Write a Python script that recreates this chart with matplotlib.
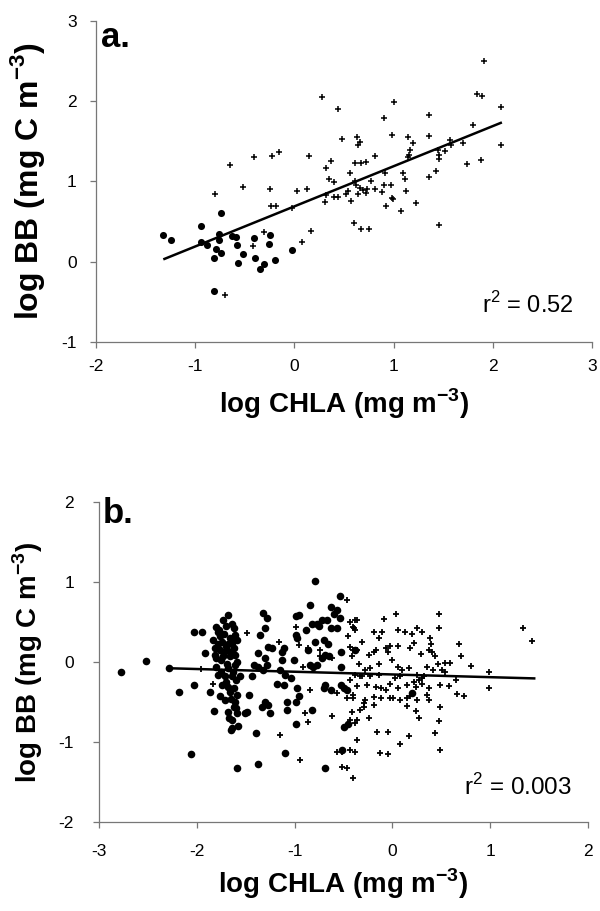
import matplotlib
matplotlib.use("Agg")
from matplotlib import pyplot as plt

plt.rcParams['font.family'] = ['Liberation Sans', 'DejaVu Sans']
plt.rcParams['mathtext.fontset'] = 'custom'
plt.rcParams['mathtext.rm'] = 'Liberation Sans'
plt.rcParams['mathtext.bf'] = 'Liberation Sans:bold'
plt.rcParams['axes.unicode_minus'] = False

# panel a - filled circles
a_dot_x = [-1.32, -1.24, -0.94, -0.74, -0.94, -0.88, -0.76, -0.76, -0.63, -0.59,
           -0.79, -0.74, -0.81, -0.58, -0.52, -0.57, -0.41, -0.40, -0.35, -0.31,
           -0.26, -0.25, -0.20, -0.02, -0.81]
a_dot_y = [0.33, 0.27, 0.45, 0.61, 0.25, 0.21, 0.34, 0.27, 0.32, 0.31,
           0.16, 0.11, 0.05, 0.21, 0.10, -0.02, 0.30, 0.05, -0.09, -0.03,
           0.22, 0.33, 0.02, 0.15, -0.36]

# panel a - crosses
a_plus_x = [-0.70, -0.42, -0.31, 0.08, 0.17, -0.02, -0.24, -0.19, -0.25, -0.52,
            -0.80, -0.65, -0.41, -0.23, -0.16, 0.03, 0.13, 0.15, 0.28, 0.44,
            0.48, 0.31, 0.32, 0.32, 0.37, 0.35, 0.40, 0.40, 0.44, 0.52,
            0.54, 0.56, 0.57, 0.60, 0.67, 0.75, 0.61, 0.62, 0.64, 0.66,
            0.69, 0.72, 0.77, 0.73, 0.81, 0.88, 0.90, 0.97, 0.92, 0.98,
            0.99, 1.07, 1.12, 1.09, 1.11, 1.23, 0.91, 0.81, 0.61, 0.67,
            0.72, 0.63, 0.66, 0.64, 0.98, 0.90, 1.00, 1.15, 1.20, 1.17,
            1.16, 1.14, 1.36, 1.36, 1.36, 1.43, 1.46, 1.46, 1.46, 1.45,
            1.52, 1.57, 1.58, 1.70, 1.74, 1.80, 1.88, 1.84, 1.89, 1.91,
            2.08, 2.08]
a_plus_y = [-0.41, 0.20, 0.37, 0.24, 0.38, 0.67, 0.70, 0.69, 0.90, 0.93,
            0.85, 1.20, 1.31, 1.32, 1.37, 0.88, 0.90, 1.32, 2.05, 1.90,
            1.53, 0.74, 0.83, 1.17, 1.26, 1.03, 0.99, 0.81, 0.81, 0.84,
            0.88, 1.10, 0.76, 0.48, 0.41, 0.41, 1.01, 0.96, 0.85, 0.92,
            0.89, 0.86, 1.00, 0.90, 0.90, 0.87, 0.95, 0.95, 0.70, 0.79,
            0.78, 0.63, 0.88, 1.11, 1.03, 0.73, 1.11, 1.32, 1.23, 1.23,
            1.24, 1.56, 1.49, 1.45, 1.58, 1.79, 1.99, 1.55, 1.48, 1.39,
            1.33, 1.31, 1.83, 1.57, 1.05, 1.13, 0.46, 1.33, 1.28, 1.39,
            1.38, 1.52, 1.45, 1.48, 1.22, 1.70, 1.27, 2.09, 2.07, 2.50,
            1.93, 1.45]

a_fit = (0.69, 0.50)          # intercept, slope
a_fit_range = (-1.31, 2.08)
a_r2 = "0.52"

# panel b - filled circles
b_dot_x = [-2.78, -2.52, -2.28, -2.18, -2.03, -2.03, -1.95, -1.92, -2.06, -1.87,
           -1.82, -1.59, -1.68, -1.73, -1.80, -1.78, -1.64, -1.62, -1.61, -1.83,
           -1.74, -1.68, -1.59, -1.81, -1.76, -1.69, -1.62, -1.81, -1.73, -1.66,
           -1.61, -1.59, -1.61, -1.80, -1.78, -1.71, -1.64, -1.56, -1.74, -1.68,
           -1.62, -1.59, -1.71, -1.61, -1.62, -1.59, -1.64, -1.65, -1.64, -1.49,
           -1.47, -1.72, -1.66, -1.70, -1.78, -1.65, -1.75, -1.68, -1.60, -1.66,
           -1.76, -1.70, -1.76, -1.64, -1.72, -1.80, -1.69, -1.75, -1.63, -1.70,
           -1.65, -1.60, -1.68, -1.58, -1.77, -1.67,
           -0.79, -0.54, -0.84, -0.63, -0.57, -1.32, -1.28, -0.99, -0.95, -0.54,
           -0.67, -0.72, -0.77, -0.82, -0.63, -0.57, -1.30, -1.35, -0.99, -0.98,
           -1.27, -1.23, -1.11, -1.13, -1.37, -1.30, -1.42, -1.37, -1.28, -1.32,
           -1.44, -1.13, -1.01, -1.15, -1.10, -1.04, -0.84, -0.81, -0.77, -0.72,
           -0.69, -0.65, -0.70, -0.79, -0.86, -0.53, -0.53, -1.18, -1.11, -0.98,
           -0.96, -0.99, -0.70, -0.69, -0.63, -0.53, -0.50, -0.46, -1.30, -1.27,
           -1.33, -1.25, -1.08, -1.08, -0.82, -0.99, -1.51, -1.39, -1.10, -1.37,
           -0.69, -0.45, -0.50, -0.52, -0.38, 0.20, -0.60, -0.75, -0.66, -0.88]
b_dot_y = [-0.13, 0.01, -0.07, -0.38, -0.29, 0.37, 0.37, 0.11, -1.15, -0.38,
           -0.61, -1.33, 0.59, 0.53, 0.44, 0.38, 0.48, 0.42, 0.34, 0.28,
           0.25, 0.23, 0.28, 0.17, 0.15, 0.15, 0.17, 0.09, 0.07, 0.07,
           0.09, 0.00, -0.04, -0.06, -0.16, -0.18, -0.18, -0.18, -0.29, -0.31,
           -0.33, -0.41, -0.48, -0.50, -0.56, -0.64, -0.73, -0.85, -0.82, -0.63,
           -0.41, 0.35, 0.30, 0.20, 0.22, 0.12, 0.02, -0.08, -0.22, -0.38,
           -0.42, 0.45, 0.32, 0.24, 0.12, 0.05, -0.02, -0.12, -0.12, -0.25,
           -0.46, -0.58, -0.62, -0.80, 0.40, -0.70,
           1.01, 0.82, 0.71, 0.69, 0.65, 0.61, 0.55, 0.57, 0.59, 0.55,
           0.53, 0.52, 0.48, 0.48, 0.42, 0.42, 0.42, 0.34, 0.34, 0.30,
           0.19, 0.17, 0.17, 0.13, 0.11, 0.05, -0.04, -0.06, -0.04, -0.10,
           -0.18, 0.02, 0.02, -0.10, -0.16, -0.20, -0.04, -0.06, -0.04, 0.05,
           0.09, 0.08, 0.28, 0.25, 0.15, -0.06, 0.13, -0.27, -0.29, -0.33,
           -0.43, -0.50, -0.33, -0.29, -0.35, -0.29, -0.33, -0.35, -0.50, -0.54,
           -0.56, -0.64, -0.50, -0.60, -0.60, -0.77, -0.64, -0.89, -1.14, -1.27,
           -1.33, -0.77, -0.81, -1.10, 0.15, -0.39, 0.60, 0.45, 0.22, 0.40]

# panel b - crosses
b_plus_x = [-1.49, -1.83, -1.96, -1.16, -0.99, -0.96, -0.86, -0.91, -0.84, -0.89,
            -0.86, -1.15, -0.94, -0.62, -0.46, -0.43, -0.38, -0.40, -0.38, -0.45,
            -0.43, -0.41, -0.74, -0.74, -0.62, -0.57, -0.46, -0.40, -0.41, -0.43,
            -0.36, -0.57, -0.52, -0.43, -0.38, -0.52, -0.46, -0.40,
            0.04, 0.48, -0.09, -0.36, -0.39, 0.48, -0.19, -0.11, -0.14, 0.06,
            0.13, 0.20, 0.25, 0.30, 0.38, 0.39, 0.22, 0.18, 0.06, -0.02,
            -0.07, -0.05, 0.00, -0.31, -0.36, -0.40, -0.17, -0.19, -0.24, -0.14,
            -0.23, -0.34, -0.28, -0.31, 0.29, 0.37, 0.41, 0.44, 0.47, 0.54,
            0.59, 0.51, 0.54, 0.68, 0.70, 0.35, 0.17, 0.06, 0.10, 0.42,
            0.32, 0.25, 0.27, 0.30, 0.22, 0.08, 0.03, -0.14, -0.23, -0.33,
            -0.38, -0.43, -0.36, -0.26, -0.17, -0.12, -0.07, -0.02, 0.06, 0.15,
            0.24, 0.30, 0.37, 0.49, 0.58, 0.65, -0.02, 0.01, -0.12, -0.19,
            -0.28, -0.29, -0.40, 0.15, 0.18, 0.25, 0.35, 0.37, 0.49, 0.66,
            0.73, 0.08, 0.15, 0.24, 0.27, 0.48, -0.19, -0.29, -0.33, -0.24,
            -0.36, -0.38, -0.16, -0.04, 0.17, 0.44, 0.49, 0.08, -0.13, -0.04,
            1.34, 1.43, 0.80, 0.99, 0.99]
b_plus_y = [0.36, -0.28, -0.09, 0.25, 0.44, 0.21, 0.17, -0.06, -0.35, -0.64,
            -0.75, -0.91, -1.23, -0.68, 0.78, 0.50, 0.53, 0.44, 0.40, 0.32,
            0.19, 0.07, 0.15, 0.07, 0.05, -0.39, -0.45, -0.41, -0.62, -0.73,
            -0.98, -1.12, -1.12, -1.10, -1.12, -1.31, -1.33, -1.45,
            0.60, 0.60, 0.54, 0.53, 0.42, 0.42, 0.38, 0.38, 0.30, 0.40,
            0.37, 0.35, 0.42, 0.38, 0.30, 0.23, 0.24, 0.17, 0.20, 0.20,
            0.18, 0.12, 0.03, 0.25, 0.15, 0.15, 0.15, 0.13, 0.09, -0.02,
            -0.07, -0.02, -0.10, -0.18, 0.10, 0.15, 0.13, 0.08, -0.02, -0.01,
            -0.01, -0.10, -0.12, 0.23, 0.08, -0.06, -0.07, -0.06, -0.10, -0.10,
            -0.18, -0.16, -0.23, -0.20, -0.25, -0.18, -0.20, -0.16, -0.18, -0.18,
            -0.16, -0.23, -0.30, -0.29, -0.31, -0.33, -0.35, -0.28, -0.33, -0.29,
            -0.31, -0.27, -0.33, -0.29, -0.30, -0.23, -0.45, -0.45, -0.45, -0.44,
            -0.48, -0.51, -0.45, -0.45, -0.43, -0.48, -0.41, -0.47, -0.56, -0.40,
            -0.43, -0.48, -0.55, -0.61, -0.70, -0.74, -0.54, -0.56, -0.60, -0.70,
            -0.73, -0.76, -0.88, -0.88, -0.92, -0.89, -1.10, -1.03, -1.14, -1.15,
            0.43, 0.26, -0.05, -0.12, -0.33]

b_fit = (-0.156, -0.034)
b_fit_range = (-2.28, 1.45)
b_r2 = "0.003"

fig = plt.figure(figsize=(6, 9.11), dpi=100)
ax_a = fig.add_axes([0.160, 0.6246, 0.8267, 0.3524])
ax_b = fig.add_axes([0.165, 0.0977, 0.8150, 0.3513])


def style(ax, xlim, ylim, ylab_size, xpad, ypad, xlabpad):
    ax.set_xlim(*xlim)
    ax.set_ylim(*ylim)
    ax.set_xticks(range(xlim[0], xlim[1] + 1))
    ax.set_yticks(range(ylim[0], ylim[1] + 1))
    for s in ['top', 'right']:
        ax.spines[s].set_visible(False)
    for s in ['left', 'bottom']:
        ax.spines[s].set_color('#777777')
        ax.spines[s].set_linewidth(0.9)
    ax.tick_params(axis='x', direction='out', length=4, width=0.9, color='#777777',
                   labelsize=12.5, pad=xpad)
    ax.tick_params(axis='y', direction='out', length=4, width=0.9, color='#777777',
                   labelsize=12.5, pad=ypad)
    ax.set_xlabel(r'log CHLA (mg m$^{\mathbf{-3}}$)', fontsize=20, fontweight='bold',
                  labelpad=xlabpad)
    ax.set_ylabel(r'log BB (mg C m$^{\mathbf{-3}}$)', fontsize=ylab_size,
                  fontweight='bold', labelpad=10)


# panel a
ax_a.scatter(a_plus_x, a_plus_y, marker='+', s=16, c='black', linewidths=1.1, zorder=3)
ax_a.scatter(a_dot_x, a_dot_y, marker='o', s=26, c='black', linewidths=0, zorder=3)
xs = list(a_fit_range)
ax_a.plot(xs, [a_fit[0] + a_fit[1] * x for x in xs], color='black', lw=1.8, zorder=4)
style(ax_a, (-2, 3), (-1, 3), 23, 8, 10, 9)
ax_a.text(0.01, 0.92, 'a.', transform=ax_a.transAxes, fontsize=25,
          fontweight='bold', va='baseline')
ax_a.text(0.962, 0.09, 'r$^2$ = ' + a_r2, transform=ax_a.transAxes, fontsize=17,
          ha='right', va='baseline')

# panel b
ax_b.scatter(b_plus_x, b_plus_y, marker='+', s=20, c='black', linewidths=1.3, zorder=3)
ax_b.scatter(b_dot_x, b_dot_y, marker='o', s=30, c='black', linewidths=0, zorder=3)
xs = list(b_fit_range)
ax_b.plot(xs, [b_fit[0] + b_fit[1] * x for x in xs], color='black', lw=1.8, zorder=4)
style(ax_b, (-3, 2), (-2, 2), 20, 12, 14, 5)
ax_b.text(0.008, 0.934, 'b.', transform=ax_b.transAxes, fontsize=25,
          fontweight='bold', va='baseline')
ax_b.text(0.967, 0.084, 'r$^2$ = ' + b_r2, transform=ax_b.transAxes, fontsize=17.5,
          ha='right', va='baseline')

fig.savefig('out.png', dpi=100)
